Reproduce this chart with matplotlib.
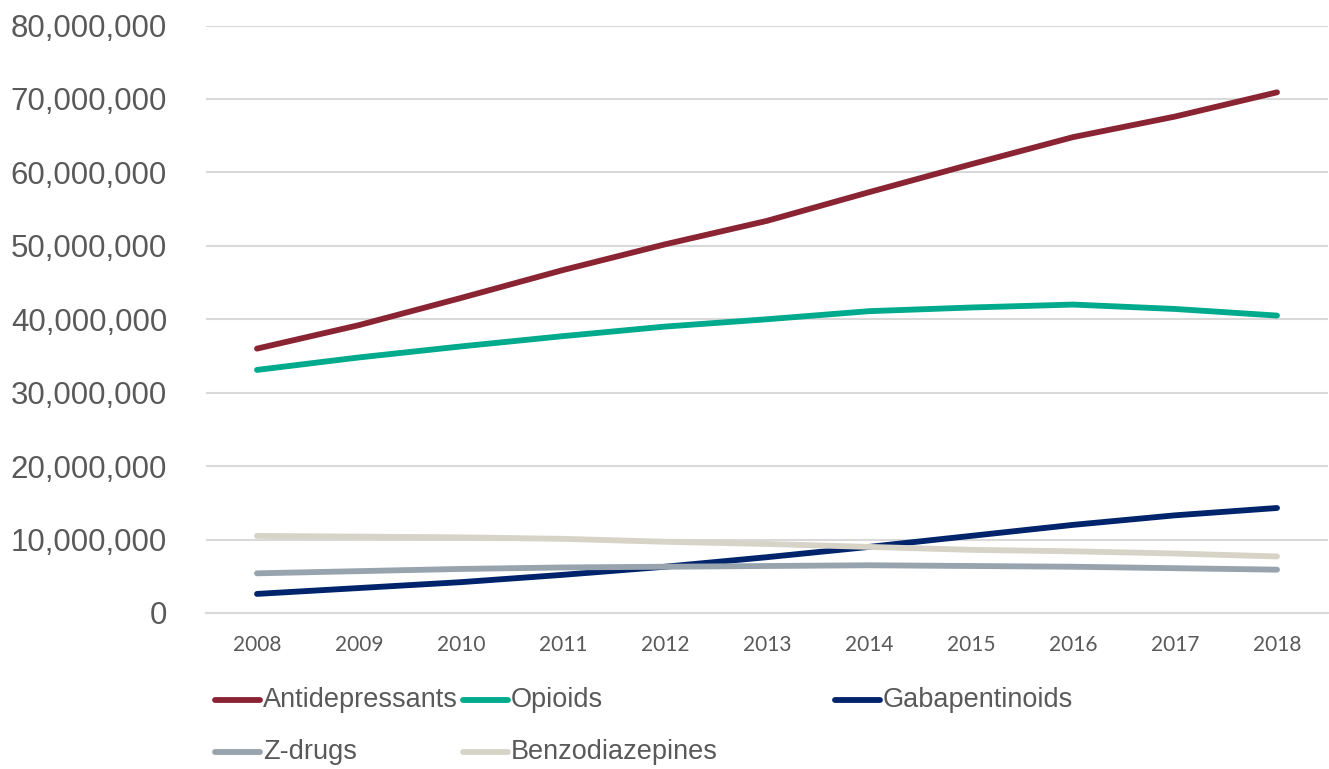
import matplotlib
matplotlib.use("Agg")
import matplotlib.pyplot as plt
from matplotlib.lines import Line2D
from matplotlib.ticker import FuncFormatter

years = ["2008", "2009", "2010", "2011", "2012", "2013", "2014", "2015", "2016", "2017", "2018"]
antidepressants = [36.0, 39.2, 42.9, 46.7, 50.2, 53.4, 57.3, 61.1, 64.8, 67.6, 70.9]
opioids = [33.1, 34.8, 36.3, 37.7, 39.0, 40.0, 41.1, 41.6, 42.0, 41.4, 40.5]
gabapentinoids = [2.6, 3.4, 4.2, 5.2, 6.3, 7.6, 9.0, 10.5, 12.0, 13.3, 14.3]
zdrugs = [5.4, 5.7, 6.0, 6.2, 6.3, 6.4, 6.5, 6.4, 6.3, 6.1, 5.9]
benzodiazepines = [10.5, 10.4, 10.3, 10.1, 9.7, 9.4, 9.0, 8.6, 8.4, 8.1, 7.7]

series_names = ["Antidepressants", "Opioids", "Gabapentinoids", "Z-drugs", "Benzodiazepines"]
series_values = [antidepressants, opioids, gabapentinoids, zdrugs, benzodiazepines]
colors = ["#8A2433", "#00AA8C", "#00246B", "#97A3AD", "#D7D3C6"]

W, H = 1329, 769
fig = plt.figure(figsize=(W / 100, H / 100), dpi=100)
ax = fig.add_axes([206 / W, 1 - 613 / H, (1328 - 206) / W, (613 - 25.5) / H])

x = list(range(len(years)))
for name, vals, c in zip(series_names, series_values, colors):
    ax.plot(x, [v * 1e6 for v in vals], color=c, lw=4.2,
            solid_capstyle="round", solid_joinstyle="round", label=name, zorder=3)

ax.set_xlim(-0.5, len(years) - 0.5)
ax.set_ylim(0, 80e6)
ax.set_yticks([i * 10e6 for i in range(9)])
ax.yaxis.set_major_formatter(FuncFormatter(lambda v, p: f"{int(v):,}"))
ax.set_xticks(x)
ax.set_xticklabels(years)
ax.grid(axis="y", color="#D9D9D9", lw=1.5, zorder=0)
ax.set_axisbelow(True)
for s in ["top", "right", "left"]:
    ax.spines[s].set_visible(False)
ax.spines["bottom"].set_color("#D9D9D9")
ax.spines["bottom"].set_linewidth(1.5)
ax.tick_params(axis="both", length=0)
ax.tick_params(axis="y", pad=28, labelsize=22.5, labelcolor="#595959")
ax.tick_params(axis="x", pad=16, labelsize=15, labelcolor="#595959")
for t in ax.get_yticklabels():
    t.set_fontfamily("Liberation Sans")
for t in ax.get_xticklabels():
    t.set_fontfamily(["Lato", "DejaVu Sans"])

# legend
legend_pos = [(215, 700), (463, 700), (835, 700), (215, 752), (463, 752)]
for (px, py), name, c in zip(legend_pos, series_names, colors):
    fx0, fx1, fy = px / W, (px + 45) / W, 1 - py / H
    fig.add_artist(Line2D([fx0, fx1], [fy, fy], color=c, lw=4.2,
                          solid_capstyle="round", transform=fig.transFigure))
    fig.text((px + 48) / W, fy, name, va="center", ha="left", fontsize=19.5,
             color="#595959", family="Liberation Sans")

fig.savefig("out.png", dpi=100)
